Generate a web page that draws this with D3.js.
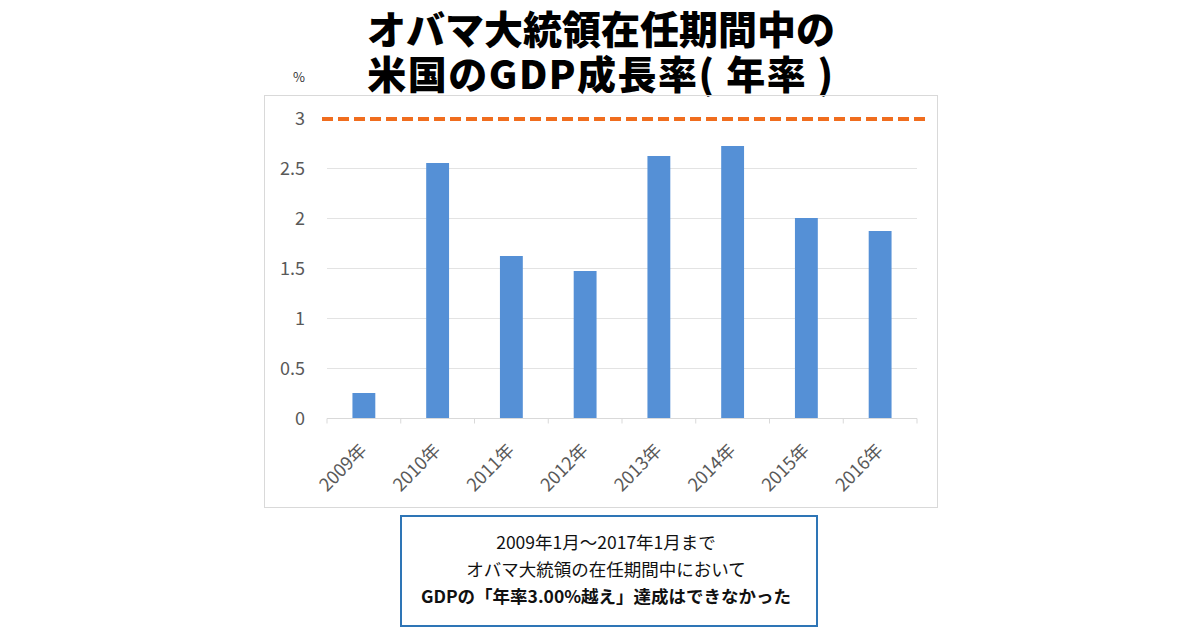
<!DOCTYPE html>
<html>
<head>
<meta charset="utf-8">
<script src="https://cdn.jsdelivr.net/npm/d3@7"></script>
<style>
	html, body { margin: 0; padding: 0; background: #fff; }
	svg { display: block; font-family: "Noto Sans CJK JP", "Noto Sans", sans-serif; }
</style>
</head>
<body>
<div id="chart"></div>
<script>
// data
const years = ["2009年", "2010年", "2011年", "2012年", "2013年", "2014年", "2015年", "2016年"];
const growth = [0.25, 2.55, 1.62, 1.47, 2.62, 2.72, 2.0, 1.87];
const yTicks = [0, 0.5, 1, 1.5, 2, 2.5, 3];
const target = 3;
const titleLines = ["オバマ大統領在任期間中の", "米国のGDP成長率( 年率 )"];
const noteLines = ["2009年1月～2017年1月まで", "オバマ大統領の在任期間中において", "GDPの「年率3.00%越え」達成はできなかった"];

const W = 1200, H = 630;
const PLOT = { LEFT: 327, RIGHT: 917, TOP: 118, BOTTOM: 418 };

const svg = d3.select("#chart")
	.append("svg")
	.attr("width", W)
	.attr("height", H);

// Title (one text block, two lines)
svg.append("text")
	.attr("x", 601)
	.attr("y", 44)
	.attr("text-anchor", "middle")
	.style("font-size", "39px")
	.style("font-weight", 900)
	.style("fill", "#000")
	.selectAll("tspan")
	.data(titleLines)
	.join("tspan")
	.attr("x", 601)
	.attr("dy", (d, i) => (i === 0 ? 0 : 45))
	.style("letter-spacing", (d, i) => (i === 1 ? "1.5px" : "0px"))
	.text((d) => d);

// chart frame
svg.append("rect")
	.attr("x", 264.5)
	.attr("y", 95.5)
	.attr("width", 673)
	.attr("height", 412)
	.attr("fill", "none")
	.attr("stroke", "#d9d9d9")
	.attr("stroke-width", 1);

svg.append("text")
	.attr("x", 299)
	.attr("y", 82)
	.attr("text-anchor", "middle")
	.style("font-size", "13px")
	.style("fill", "#333")
	.text("%");

let xScale = d3.scaleBand()
	.domain(years)
	.range([PLOT.LEFT, PLOT.RIGHT])
	.paddingInner(0.69)
	.paddingOuter(0.345);

let yScale = d3.scaleLinear()
	.domain([0, 3])
	.range([PLOT.BOTTOM, PLOT.TOP]);

// gridlines
svg.append("g")
	.selectAll("line")
	.data(yTicks.filter((t) => t > 0 && t < 3))
	.join("line")
	.attr("x1", PLOT.LEFT)
	.attr("x2", PLOT.RIGHT)
	.attr("y1", (d) => yScale(d) + 0.5)
	.attr("y2", (d) => yScale(d) + 0.5)
	.attr("stroke", "#e3e3e3")
	.attr("stroke-width", 1);

// y axis labels
let yAxis = svg.append("g")
	.attr("transform", `translate(${PLOT.LEFT - 22},0)`)
	.call(d3.axisLeft(yScale).tickValues(yTicks).tickSize(0).tickFormat(d3.format("~g")));
yAxis.select(".domain").remove();
yAxis.selectAll("text")
	.attr("x", 0)
	.attr("dy", "0.35em")
	.style("font-family", "'Noto Sans CJK JP', sans-serif")
	.style("font-size", "18px")
	.style("fill", "#595959");

// bars
svg.append("g")
	.selectAll("rect")
	.data(years.map((y, i) => ({ year: y, value: growth[i] })))
	.join("rect")
	.attr("x", (d) => xScale(d.year))
	.attr("width", xScale.bandwidth())
	.attr("y", (d) => yScale(d.value))
	.attr("height", (d) => yScale(0) - yScale(d.value))
	.attr("fill", "#5590d6");

// x axis with ticks between categories
let xAxis = svg.append("g")
	.attr("transform", `translate(0,${PLOT.BOTTOM + 0.5})`);
xAxis.append("line")
	.attr("x1", PLOT.LEFT)
	.attr("x2", PLOT.RIGHT)
	.attr("stroke", "#d9d9d9");
const step = xScale.step();
xAxis.selectAll(".sep")
	.data(d3.range(years.length + 1))
	.join("line")
	.attr("class", "sep")
	.attr("x1", (i) => PLOT.LEFT + i * step)
	.attr("x2", (i) => PLOT.LEFT + i * step)
	.attr("y1", 0)
	.attr("y2", 5)
	.attr("stroke", "#d9d9d9");
xAxis.selectAll(".lbl")
	.data(years)
	.join("text")
	.attr("class", "lbl")
	.attr("transform", (d) => `translate(${xScale(d) + xScale.bandwidth() / 2 + 4},${33}) rotate(-45)`)
	.attr("text-anchor", "end")
	.style("font-size", "18px")
	.style("fill", "#595959")
	.text((d) => d);

// 3% target dashed line
svg.append("line")
	.attr("x1", 322)
	.attr("x2", 928)
	.attr("y1", yScale(target) + 1)
	.attr("y2", yScale(target) + 1)
	.attr("stroke", "#f06d1e")
	.attr("stroke-width", 4)
	.attr("stroke-dasharray", "11,5");

// note box
svg.append("rect")
	.attr("x", 401)
	.attr("y", 516)
	.attr("width", 416)
	.attr("height", 110)
	.attr("fill", "#fff")
	.attr("stroke", "#2e75b6")
	.attr("stroke-width", 2);

svg.append("g")
	.selectAll("text")
	.data(noteLines)
	.join("text")
	.attr("x", 606)
	.attr("y", (d, i) => 549 + i * 27)
	.attr("text-anchor", "middle")
	.style("font-size", "17.5px")
	.style("font-weight", (d, i) => (i === 2 ? 700 : 400))
	.style("fill", "#111")
	.text((d) => d);
</script>
</body>
</html>
